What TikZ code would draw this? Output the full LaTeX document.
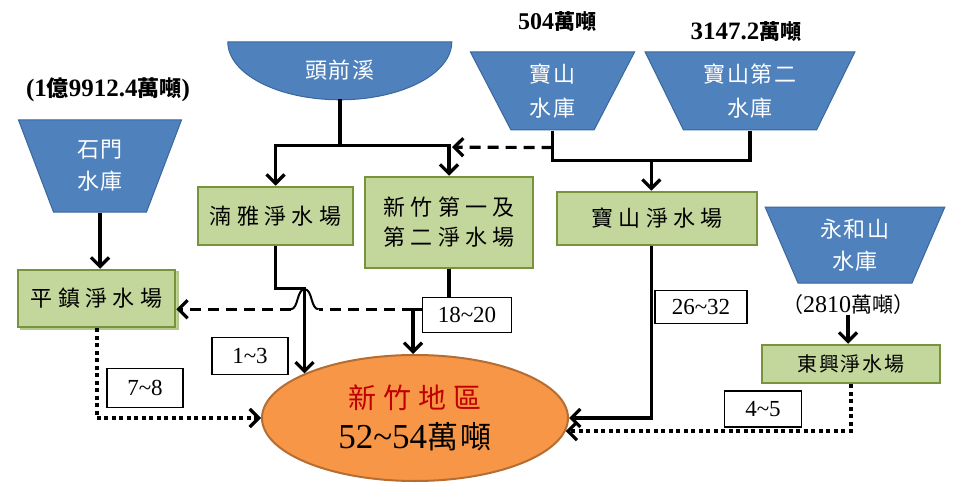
\documentclass[tikz,border=0pt]{standalone}
\usepackage{fontspec}
\setmainfont{Liberation Serif}
\newfontfamily\cjk{Noto Sans CJK TC}
\newfontfamily\cjkA{Noto Sans CJK TC}[LetterSpace=8]
\newfontfamily\cjkB{Noto Sans CJK TC}[LetterSpace=24]
\usetikzlibrary{shapes.geometric,arrows.meta,calc,backgrounds}

\definecolor{bluF}{HTML}{4F81BD}
\definecolor{bluB}{HTML}{3A679C}
\definecolor{grnF}{HTML}{C3D69B}
\definecolor{grnB}{HTML}{77933C}
\definecolor{grnS}{HTML}{B3C98A}
\definecolor{orgF}{HTML}{F79646}
\definecolor{orgB}{HTML}{B66D31}
\definecolor{redT}{HTML}{C00000}

\tikzset{
  res/.style={trapezium, shape border rotate=180, trapezium stretches=true,
    fill=bluF, draw=bluB, line width=1pt, text=white, align=center, inner sep=0pt,
    font=\cjkA\fontsize{22}{27}\selectfont},
  plant/.style={draw=grnB, fill=grnF, line width=2.5pt, align=center, inner sep=0pt,
    font=\cjkB\fontsize{22}{28}\selectfont},
  num/.style={draw, line width=1.6pt, fill=white, inner sep=0pt,
    font=\rmfamily\fontsize{23}{26}\selectfont},
  line/.style={line width=3.2pt},
  arr/.style={line, -{Straight Barb[length=9pt,width=18pt]}},
  dline/.style={line, dash pattern=on 11pt off 7pt},
  darr/.style={arr, dash pattern=on 11pt off 7pt},
  dotarr/.style={line width=4pt, dash pattern=on 4pt off 3.5pt,
    -{Straight Barb[length=9pt,width=18pt,line width=3.2pt]}},
}

\begin{document}
\begin{tikzpicture}[x=1pt,y=1pt]
\useasboundingbox (0,0) rectangle (959,-492);
\begin{scope}[on background layer]
  \fill[white] (0,0) rectangle (959,-492);
\end{scope}

% reservoirs
\node[res, minimum width=164, minimum height=92, trapezium angle=71.4] (sm) at (100,-166) {石門\\[5pt]水庫};
\node[res, minimum width=165, minimum height=78, trapezium angle=67.7] (bs) at (552.5,-91) {寶山\\[7pt]水庫};
\node[res, minimum width=210, minimum height=78, trapezium angle=63.7] (bs2) at (750,-91) {寶山第二\\[7pt]水庫};
\node[res, minimum width=180, minimum height=76, trapezium angle=69] (yh) at (855,-245) {永和山\\[5pt]水庫};

% river
\node[text=white, minimum width=224, minimum height=58, inner sep=0pt,
      font=\cjkA\fontsize{22}{27}\selectfont] (tq) at (340,-70) {頭前溪};
\begin{scope}[on background layer]
  \filldraw[fill=bluF, draw=bluB, line width=1pt] ($(tq.north west)+(0,-1)$)
    arc[start angle=180, end angle=360, x radius=112, y radius=58] -- cycle;
\end{scope}

% capacity labels
\node[font=\bfseries\fontsize{25}{28}\selectfont] (sml) at (108,-90)
  {(1{\cjk\fontsize{22}{24}\selectfont 億}9912.4{\cjk\fontsize{22}{24}\selectfont 萬噸})};
\node[font=\bfseries\fontsize{24}{28}\selectfont] (bsl) at (557,-22)
  {504{\cjk\fontsize{21}{24}\selectfont 萬噸}};
\node[font=\bfseries\fontsize{25}{28}\selectfont] (bs2l) at (746,-32)
  {3147.2{\cjk\fontsize{21}{24}\selectfont 萬噸}};
\node[font=\fontsize{24}{28}\selectfont] (yhl) at (848,-305)
  {{\cjk\fontsize{21}{24}\selectfont （}2810{\cjk\fontsize{21}{24}\selectfont 萬噸）}};

% treatment plants
\begin{scope}[on background layer]
  \draw[draw=grnS, fill=grnF, line width=2pt] (21,-272) rectangle (178,-329);
\end{scope}
\node[plant, minimum width=157, minimum height=57] (pz) at (96.5,-298.5) {平鎮淨水場};
\node[plant, minimum width=155, minimum height=58] (ny) at (275.5,-216) {湳雅淨水場};
\node[plant, minimum width=168, minimum height=91] (xz) at (449,-222.5) {新竹第一及\\[2pt]第二淨水場};
\node[plant, minimum width=200, minimum height=53] (bsp) at (657,-218.5) {寶山淨水場};
\node[plant, minimum width=178, minimum height=38, font=\cjkA\fontsize{20}{26}\selectfont] (dx) at (851,-364) {東興淨水場};

% supply area
\node[ellipse, draw=orgB, fill=orgF, line width=2pt, minimum width=306, minimum height=126,
      inner sep=0pt, align=center, font=\fontsize{30}{40}\selectfont] (area) at (415,-418)
  {{\cjkB\fontsize{28}{34}\selectfont\color{redT}新竹地區}\\
   {\rmfamily\fontsize{35}{40}\selectfont 52\textasciitilde 54}{\cjkA\fontsize{31}{36}\selectfont 萬噸}};

% river to plants
\draw[line] (tq.south) -- ++(0,-46) coordinate (t1);
\draw[arr] (t1) -| (ny.north);
\draw[arr] (t1) -| (xz.north);

% Baoshan reservoirs to Baoshan plant
\coordinate (m) at ($(bs.south)!0.5!(bs2.south)+(0,-30)$);
\draw[line] (bs.south) |- (m) -| (bs2.south);
\draw[arr] (m) -- (m |- bsp.north);
\draw[darr] ($(bs.south)+(0,-17)$) -- ($(t1 -| xz.north)+(3,-2)$);

% Shimen
\draw[arr] (sm.south) -- (sm.south |- pz.north);

% Nanya to area
\draw[arr] (ny.south) -- ++(0,-42) -| (area.158);

% Hsinchu first/second plants to area and Pingzhen
\coordinate (j1) at ($(xz.south)+(-36,-40)$);
\draw[line] (xz.south) |- (j1);
\draw[arr] (j1) -- (j1 |- area.north);
\coordinate (cx) at (j1 -| area.158);
\draw[dline] (j1) -- ($(cx)+(14,0)$);
\draw[line width=2pt] ($(cx)+(14,0)$)
  .. controls ($(cx)+(6,0)$) and ($(cx)+(8,20)$) .. ($(cx)+(0,20)$)
  .. controls ($(cx)+(-8,20)$) and ($(cx)+(-6,0)$) .. ($(cx)+(-14,0)$);
\draw[darr] ($(cx)+(-14,0)$) -- (pz.east |- j1);

% Pingzhen to area
\draw[dotarr] (pz.south) |- (area.west);

% Baoshan plant to area
\draw[arr] (m |- bsp.south) |- (area.east);

% Yonghe
\draw[arr] ($(yhl.south)+(0,4)$) -- (yhl.south |- dx.north);
\draw[dotarr] (dx.south) |- (area.355);

% flow labels
\node[num, minimum width=76, minimum height=37] (l13) at (250,-356) {1\textasciitilde 3};
\node[num, minimum width=76, minimum height=39] (l78) at (145,-388) {7\textasciitilde 8};
\node[num, minimum width=89, minimum height=35] (l1820) at (467,-315) {18\textasciitilde 20};
\node[num, minimum width=92, minimum height=33] (l2632) at (701,-307) {26\textasciitilde 32};
\node[num, minimum width=77, minimum height=36] (l45) at (763,-409) {4\textasciitilde 5};
\end{tikzpicture}
\end{document}
